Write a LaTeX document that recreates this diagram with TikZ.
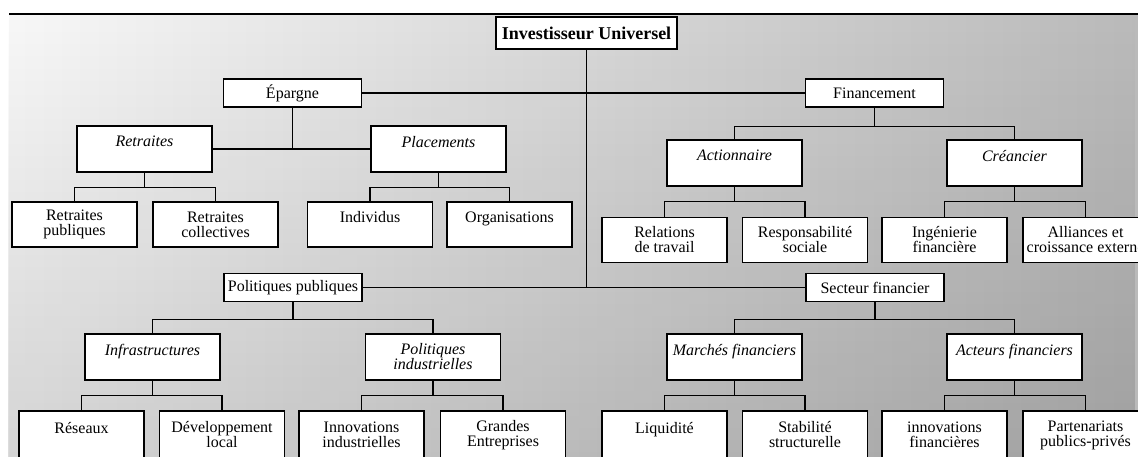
\documentclass[tikz,border=0pt]{standalone}
\usepackage{fontspec}
\setmainfont{Liberation Serif}
\usetikzlibrary{calc,positioning,fadings}
\tikzset{
	box/.style={
		draw, fill=white, line width=1.4pt,
		inner sep=2pt, align=center, text=black
	},
	rootbox/.style={box, minimum width=181pt, minimum height=32pt,
		font=\fontsize{18}{18}\selectfont\bfseries},
	topicbox/.style={box, minimum width=138pt, minimum height=28pt,
		font=\fontsize{16}{15}\selectfont},
	themebox/.style={box, minimum width=135pt, minimum height=46pt,
		font=\fontsize{16}{15}\selectfont\itshape},
	leafbox/.style={box, minimum width=125pt, minimum height=45pt,
		font=\fontsize{16}{15}\selectfont},
	lowbox/.style={leafbox, minimum height=48pt},
	link/.style={line width=1.4pt}
}

\begin{document}
\begin{tikzpicture}[x=1pt, y=-1pt]
				\useasboundingbox (0,0) rectangle (1138,457);
				\clip (0,0) rectangle (1138,457);
				\shade[left color=black!3, right color=black!27] (9,14) rectangle (1138,457);
				\fill[black, fill opacity=0.14, path fading=north] (9,14) rectangle (1138,457);
				\draw[line width=2pt] (9,14) -- (1138,14);
				\node[rootbox]  (inv) at (586.5,33) {Investisseur Universel};
				\node[topicbox] (epargne) at (292.5,93) {Épargne};
				\node[topicbox] (financement) at (874.5,93) {Financement};
				\node[topicbox] (polpub) at (293,287.5) {Politiques publiques};
				\node[topicbox] (secteur) at (875,287.5) {Secteur financier};
				\node[themebox] (retraites) at (144.5,149) {Retraites\\~};
				\node[themebox] (placements) at (438.5,149) {Placements\\~};
				\node[themebox] (actionnaire) at (734.5,163) {Actionnaire\\~};
				\node[themebox] (creancier) at (1014.5,163) {Créancier\\~};
				\node[themebox] (infra) at (152.5,357) {Infrastructures\\~};
				\node[themebox] (polind) at (433,357) {Politiques\\industrielles};
				\node[themebox] (marches) at (734.5,357) {Marchés financiers\\~};
				\node[themebox] (acteurs) at (1014.5,357) {Acteurs financiers\\~};
				\node[leafbox] (retpub) at (74.5,224.5) {Retraites\\publiques};
				\node[leafbox] (retcol) at (215.5,224.5) {Retraites\\collectives};
				\node[leafbox] (individus) at (370,224.5) {Individus\\~};
				\node[leafbox] (organisations) at (509.5,224.5) {Organisations\\~};
				\node[leafbox] (relations) at (664.5,240) {Relations\\de travail};
				\node[leafbox] (responsabilite) at (805,240) {Responsabilité\\sociale};
				\node[leafbox] (ingenierie) at (944.5,240) {Ingénierie\\financière};
				\node[leafbox] (alliances) at (1085.5,240) {Alliances et\\croissance externe};
				\node[lowbox] (reseaux) at (81.5,435) {Réseaux\\~};
				\node[lowbox] (devloc) at (222,435) {Développement\\local};
				\node[lowbox] (innovind) at (361.5,435) {Innovations\\industrielles};
				\node[lowbox] (grandes) at (503,435) {Grandes\\Entreprises};
				\node[lowbox] (liquidite) at (664.5,435) {Liquidité\\~};
				\node[lowbox] (stabilite) at (805,435) {Stabilité\\structurelle};
				\node[lowbox] (innovfin) at (944.5,435) {innovations\\financières};
				\node[lowbox] (partenariats) at (1085.5,435) {Partenariats\\publics-privés};
				\draw[link] (inv.south) -- (inv.south |- polpub.east);
				\draw[link] (epargne.east) -- (financement.west);
				\draw[link] (polpub.east) -- (secteur.west);
				\draw[link] (retraites.east) -- (placements.west);
				\draw[link] (epargne.south) -- (epargne.south |- retraites.east);
				\draw[link] (financement.south) -- ++(0,19) -| (actionnaire.north);
				\draw[link] (financement.south) ++(0,19) -| (creancier.north);
				\draw[link] (polpub.south) -- ++(0,17) -| (infra.north);
				\draw[link] (polpub.south) ++(0,17) -| (polind.north);
				\draw[link] (secteur.south) -- ++(0,17) -| (marches.north);
				\draw[link] (secteur.south) ++(0,17) -| (acteurs.north);
				\foreach \parent/\left/\right in {retraites/retpub/retcol, placements/individus/organisations,
						actionnaire/relations/responsabilite, creancier/ingenierie/alliances,
						infra/reseaux/devloc, polind/innovind/grandes,
						marches/liquidite/stabilite, acteurs/innovfin/partenariats}{
					\draw[link] (\parent.south) -- ++(0,15) -| (\left.north);
					\draw[link] (\parent.south) ++(0,15) -| (\right.north);
				}
			\end{tikzpicture}
\end{document}
